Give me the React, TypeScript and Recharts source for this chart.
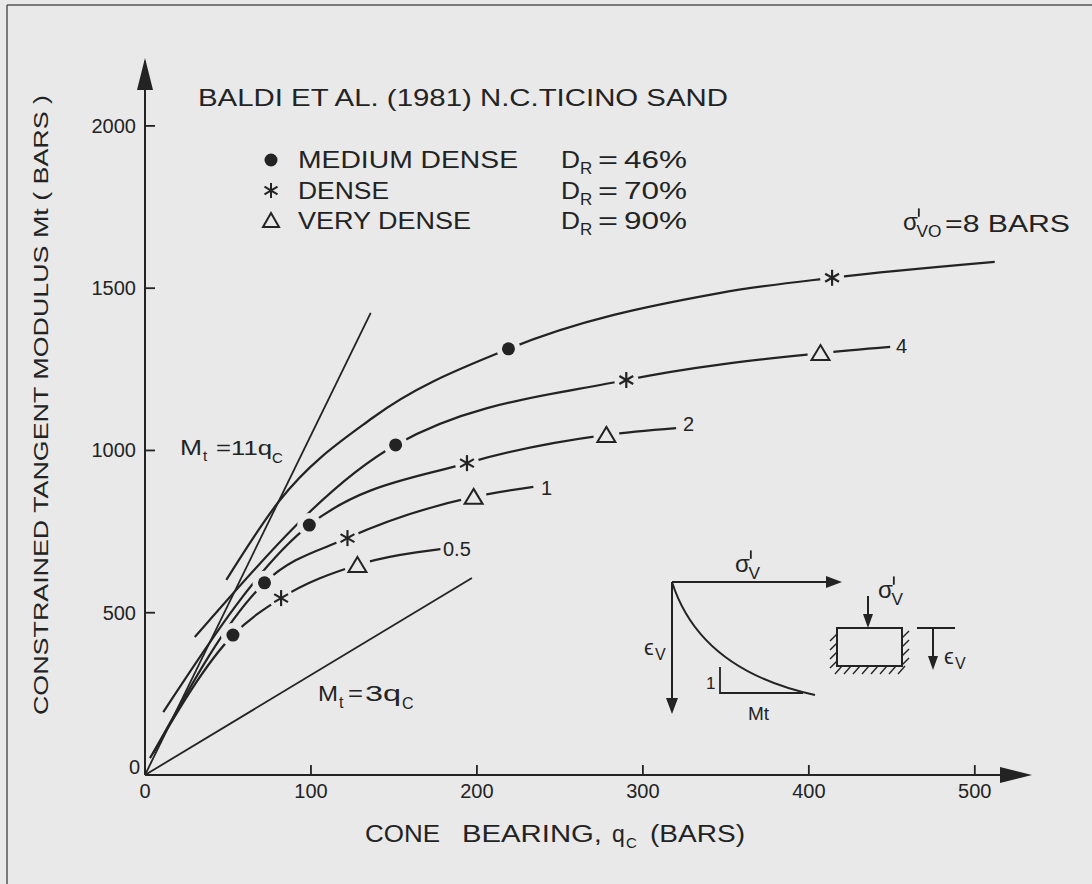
import React from "react";
import { ComposedChart, Line, Scatter, XAxis, YAxis } from "recharts";

// cone bearing qc (bars) / constrained modulus Mt (bars)
const q05 = [3, 53, 82, 128, 178];
const m05 = [52, 431, 545, 647, 696];
const q1 = [5, 72, 122, 198, 234];
const m1 = [68, 592, 730, 857, 888];
const q2 = [11, 99, 194, 278, 320];
const m2 = [194, 770, 961, 1048, 1069];
const q4 = [30, 151, 290, 407, 449];
const m4 = [425, 1017, 1217, 1300, 1319];
const q8 = [49, 81, 137, 219, 346, 414, 512];
const m8 = [601, 845, 1100, 1313, 1485, 1532, 1581];

const mediumQ = [53, 72, 99, 151, 219];
const mediumM = [431, 592, 770, 1017, 1313];
const denseQ = [82, 122, 194, 290, 414];
const denseM = [545, 730, 961, 1217, 1532];
const veryDenseQ = [128, 198, 278, 407];
const veryDenseM = [647, 857, 1048, 1300];

const line11Q = [0, 136];
const line11M = [0, 1424];
const line3Q = [0, 197];
const line3M = [0, 607];

const xTicks = [0, 100, 200, 300, 400, 500];
const yTicks = [0, 500, 1000, 1500, 2000];

const BG = "#e9e9ea";
const INK = "#232323";
const FONT = "'Liberation Sans', Arial, Helvetica, sans-serif";

const pts = (qs: number[], ms: number[]) => qs.map((q, i) => ({ q, m: ms[i] }));

const curves = [pts(q05, m05), pts(q1, m1), pts(q2, m2), pts(q4, m4), pts(q8, m8)];

function Dot({ cx, cy }: any) {
  return (
    <g>
      <circle cx={cx} cy={cy} r={12} fill={BG} />
      <circle cx={cx} cy={cy} r={6.5} fill={INK} />
    </g>
  );
}

function Star({ cx, cy }: any) {
  const r = 8;
  const a = r * Math.cos(Math.PI / 6);
  const b = r * Math.sin(Math.PI / 6);
  return (
    <g stroke={INK} strokeWidth={2.2}>
      <circle cx={cx} cy={cy} r={12} fill={BG} stroke="none" />
      <line x1={cx} y1={cy - r} x2={cx} y2={cy + r} />
      <line x1={cx - a} y1={cy - b} x2={cx + a} y2={cy + b} />
      <line x1={cx - a} y1={cy + b} x2={cx + a} y2={cy - b} />
    </g>
  );
}

function Tri({ cx, cy }: any) {
  return (
    <g>
      <circle cx={cx} cy={cy} r={13} fill={BG} />
      <path
        d={`M${cx},${cy - 8} L${cx + 9},${cy + 7} L${cx - 9},${cy + 7} Z`}
        fill="none"
        stroke={INK}
        strokeWidth={2}
      />
    </g>
  );
}

function XTick({ x, y, payload }: any) {
  return (
    <g>
      {payload.value !== 0 && <line x1={x} y1={y} x2={x} y2={y - 10} stroke={INK} strokeWidth={1.8} />}
      <text x={x} y={y + 23} textAnchor="middle" fontSize={20} fill={INK} fontFamily={FONT}>
        {payload.value}
      </text>
    </g>
  );
}

function YTick({ x, y, payload }: any) {
  const zero = payload.value === 0;
  return (
    <g>
      {!zero && <line x1={x} y1={y} x2={x + 10} y2={y} stroke={INK} strokeWidth={1.8} />}
      <text
        x={zero ? x - 5 : x - 9}
        y={zero ? y - 1 : y + 7}
        textAnchor="end"
        fontSize={20}
        fill={INK}
        fontFamily={FONT}
      >
        {payload.value}
      </text>
    </g>
  );
}

// sigma with a prime stroke and a subscript
function Sigma({ x, y, size, sub }: { x: number; y: number; size: number; sub: string }) {
  return (
    <g fill={INK} fontFamily={FONT}>
      <text x={x} y={y} fontSize={size}>σ</text>
      <line
        x1={x + size * 0.66}
        y1={y - size * 0.9}
        x2={x + size * 0.66}
        y2={y - size * 0.55}
        stroke={INK}
        strokeWidth={1.8}
      />
      <text x={x + size * 0.56} y={y + size * 0.3} fontSize={size * 0.72}>{sub}</text>
    </g>
  );
}

function Overlay() {
  const t = { fill: INK, fontFamily: FONT };
  const wide = { lengthAdjust: "spacingAndGlyphs" as const };
  return (
    <svg width={1092} height={884} style={{ position: "absolute", left: 0, top: 0, pointerEvents: "none" }}>
      {/* frame */}
      <line x1={7} y1={5} x2={1092} y2={5} stroke="#555" strokeWidth={1.5} />
      <line x1={7} y1={5} x2={7} y2={884} stroke="#555" strokeWidth={1.5} />
      {/* axis arrows */}
      <path d="M145,58 L153,90 L137,90 Z" fill={INK} />
      <line x1={1000} y1={775} x2={1010} y2={775} stroke={INK} strokeWidth={2} />
      <path d="M1032,775 L1000,767 L1000,783 Z" fill={INK} />

      <text x={198} y={106} fontSize={24} textLength={530} {...wide} {...t}>
        BALDI ET AL. (1981)  N.C.TICINO SAND
      </text>

      {/* legend */}
      <circle cx={271} cy={160} r={6.5} fill={INK} />
      <g stroke={INK} strokeWidth={2}>
        <line x1={271} y1={183} x2={271} y2={198} />
        <line x1={264.5} y1={186.7} x2={277.5} y2={194.3} />
        <line x1={264.5} y1={194.3} x2={277.5} y2={186.7} />
      </g>
      <path d="M271,213 L279,227 L263,227 Z" fill="none" stroke={INK} strokeWidth={2} />
      <text x={298} y={168} fontSize={23} textLength={220} {...wide} {...t}>MEDIUM  DENSE</text>
      <text x={298} y={199} fontSize={23} textLength={91} {...wide} {...t}>DENSE</text>
      <text x={298} y={229} fontSize={23} textLength={173} {...wide} {...t}>VERY DENSE</text>
      {[
        [168, "46%"],
        [199, "70%"],
        [229, "90%"],
      ].map(([y, v]) => (
        <g key={String(y)}>
          <text x={561} y={Number(y)} fontSize={23} textLength={19} {...wide} {...t}>D</text>
          <text x={580} y={Number(y) + 6} fontSize={17} {...t}>R</text>
          <text x={598} y={Number(y)} fontSize={23} textLength={20} {...wide} {...t}>=</text>
          <text x={624} y={Number(y)} fontSize={23} textLength={63} {...wide} {...t}>{v}</text>
        </g>
      ))}

      <Sigma x={903} y={230} size={24} sub="VO" />
      <text x={945} y={232} fontSize={23} textLength={125} {...wide} {...t}>=8 BARS</text>

      <text x={180} y={455} fontSize={22} textLength={22} {...wide} {...t}>M</text>
      <text x={203} y={461} fontSize={15} {...t}>t</text>
      <text x={216} y={455} fontSize={21} textLength={56} {...wide} {...t}>=11q</text>
      <text x={272} y={463} fontSize={15} {...t}>C</text>

      <text x={318} y={701} fontSize={22} textLength={20} {...wide} {...t}>M</text>
      <text x={339} y={708} fontSize={16} {...t}>t</text>
      <text x={348} y={701} fontSize={22} textLength={15} {...wide} {...t}>=</text>
      <text x={365} y={701} fontSize={22} textLength={36} {...wide} {...t}>3q</text>
      <text x={402} y={709} fontSize={16} {...t}>C</text>

      <text x={443} y={556} fontSize={20} {...t}>0.5</text>
      <text x={541} y={495} fontSize={20} {...t}>1</text>
      <text x={683} y={431} fontSize={20} {...t}>2</text>
      <text x={896} y={353} fontSize={20} {...t}>4</text>

      <text x={365} y={842} fontSize={23} textLength={75} {...wide} {...t}>CONE</text>
      <text x={462} y={842} fontSize={23} textLength={140} {...wide} {...t}>BEARING,</text>
      <text x={612} y={842} fontSize={23} {...t}>q</text>
      <text x={626} y={848} fontSize={15} {...t}>C</text>
      <text x={650} y={842} fontSize={23} textLength={95} {...wide} {...t}>(BARS)</text>

      <text
        x={42}
        y={405}
        transform="rotate(-90 42 405)"
        fontSize={21}
        textAnchor="middle"
        dominantBaseline="middle"
        textLength={620}
        {...wide}
        {...t}
      >
        CONSTRAINED TANGENT MODULUS Mt ( BARS )
      </text>

      {/* inset: stress-strain sketch */}
      <g stroke={INK} strokeWidth={2} fill="none">
        <line x1={672} y1={582} x2={830} y2={582} />
        <line x1={672} y1={582} x2={672} y2={700} />
        <path d="M672,582 Q700,670 815,695" />
        <polyline points="720,667 720,693 803,693" strokeWidth={1.8} />
        <rect x={837} y={628} width={65} height={38} />
        <line x1={868} y1={596} x2={868} y2={618} />
        <line x1={917} y1={628} x2={955} y2={628} />
        <line x1={933} y1={628} x2={933} y2={660} />
        <g strokeWidth={1.4}>
          {[0, 1, 2, 3].map((i) => (
            <line key={"l" + i} x1={837} y1={634 + i * 9} x2={830} y2={641 + i * 9} />
          ))}
          {[0, 1, 2, 3].map((i) => (
            <line key={"r" + i} x1={909} y1={631 + i * 9} x2={902} y2={638 + i * 9} />
          ))}
          {[0, 1, 2, 3, 4, 5, 6, 7].map((i) => (
            <line key={"b" + i} x1={842 + i * 9} y1={666} x2={835 + i * 9} y2={674} />
          ))}
        </g>
      </g>
      <path d="M842,582 L826,576 L826,588 Z" fill={INK} />
      <path d="M672,714 L666,698 L678,698 Z" fill={INK} />
      <path d="M868,628 L863,614 L873,614 Z" fill={INK} />
      <path d="M933,670 L928,656 L938,656 Z" fill={INK} />
      <Sigma x={735} y={572} size={24} sub="V" />
      <Sigma x={878} y={598} size={24} sub="V" />
      <text x={644} y={655} fontSize={22} {...t}>ϵ</text>
      <text x={655} y={660} fontSize={16} {...t}>V</text>
      <text x={944} y={664} fontSize={22} {...t}>ϵ</text>
      <text x={955} y={669} fontSize={16} {...t}>V</text>
      <text x={706} y={689} fontSize={17} {...t}>1</text>
      <text x={748} y={720} fontSize={19} {...t}>Mt</text>
    </svg>
  );
}

export default function App() {
  return (
    <div style={{ position: "absolute", left: 0, top: 0, width: 1092, height: 884, background: BG }}>
      <ComposedChart width={1092} height={884} margin={{ top: 61, right: 84, left: 85, bottom: 79 }}>
        <XAxis
          dataKey="q"
          type="number"
          domain={[0, 520]}
          ticks={xTicks}
          allowDataOverflow
          height={30}
          tickSize={0}
          tickMargin={0}
          tick={<XTick />}
          axisLine={{ stroke: INK, strokeWidth: 2 }}
          tickLine={false}
        />
        <YAxis
          dataKey="m"
          type="number"
          domain={[0, 2200]}
          ticks={yTicks}
          allowDataOverflow
          width={60}
          tickSize={0}
          tickMargin={0}
          tick={<YTick />}
          axisLine={{ stroke: INK, strokeWidth: 2 }}
          tickLine={false}
        />
        <Line data={pts(line11Q, line11M)} dataKey="m" type="linear" stroke={INK} strokeWidth={1.8} dot={false} isAnimationActive={false} />
        <Line data={pts(line3Q, line3M)} dataKey="m" type="linear" stroke={INK} strokeWidth={1.8} dot={false} isAnimationActive={false} />
        {curves.map((c, i) => (
          <Line
            key={i}
            data={c}
            dataKey="m"
            type="monotone"
            stroke={INK}
            strokeWidth={2.2}
            dot={false}
            isAnimationActive={false}
          />
        ))}
        <Scatter data={pts(mediumQ, mediumM)} dataKey="m" shape={<Dot />} isAnimationActive={false} />
        <Scatter data={pts(denseQ, denseM)} dataKey="m" shape={<Star />} isAnimationActive={false} />
        <Scatter data={pts(veryDenseQ, veryDenseM)} dataKey="m" shape={<Tri />} isAnimationActive={false} />
      </ComposedChart>
      <Overlay />
    </div>
  );
}
